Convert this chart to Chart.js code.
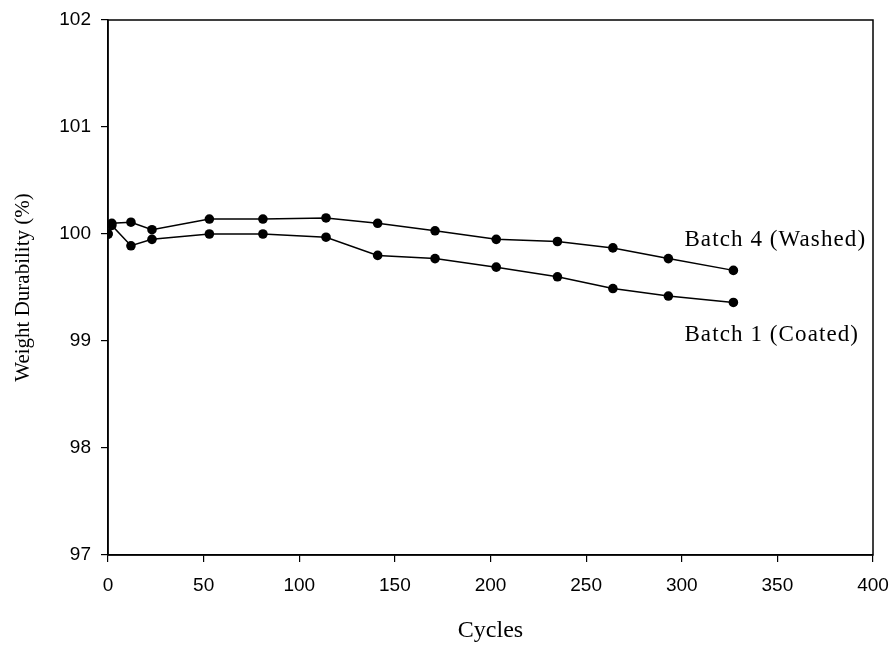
<!DOCTYPE html>
<html>
<head>
<meta charset="utf-8">
<style>
  html, body { margin: 0; padding: 0; background: #fff; }
  #chart { display: block; }
</style>
<script src="https://cdn.jsdelivr.net/npm/chart.js@4/dist/chart.umd.min.js"></script>
</head>
<body>
<canvas id="chart" width="895" height="646"></canvas>
<script>
/* ── Data ─────────────────────────────────────────────────────────────── */
const cycles = [0, 2, 12, 23, 53, 81, 114, 141, 171, 203, 235, 264, 293, 327];
const batch4 = [100.0, 100.1, 100.11, 100.04, 100.14, 100.14, 100.15, 100.1, 100.03, 99.95, 99.93, 99.87, 99.77, 99.66];
const batch1 = [100.0, 100.08, 99.89, 99.95, 100.0, 100.0, 99.97, 99.8, 99.77, 99.69, 99.6, 99.49, 99.42, 99.36];
const seriesNames = ['Batch 4 (Washed)', 'Batch 1 (Coated)'];
const xTicks = [0, 50, 100, 150, 200, 250, 300, 350, 400];
const yTicks = [97, 98, 99, 100, 101, 102];

const SERIF = '"Liberation Serif", "Times New Roman", serif';
const SANS = '"Liberation Sans", Arial, sans-serif';

const pts = ys => cycles.map((c, i) => ({ x: c, y: ys[i] }));

function dataset(label, ys) {
  return {
    label, data: pts(ys),
    borderColor: '#000', backgroundColor: '#000',
    borderWidth: 1.5, pointRadius: 4.8, pointHoverRadius: 4.8,
    pointBorderWidth: 0, tension: 0,
  };
}

/* ── Plugins ──────────────────────────────────────────────────────────── */
// closes the plot box (top + right edge)
const frame = {
  id: 'frame',
  afterDraw(chart) {
    const { ctx, chartArea: a } = chart;
    ctx.save();
    ctx.strokeStyle = '#000';
    ctx.lineWidth = 1.5;
    ctx.strokeRect(a.left, a.top, a.right - a.left, a.bottom - a.top);
    ctx.restore();
  },
};

// series names beside the line ends
const endLabels = {
  id: 'endLabels',
  afterDatasetsDraw(chart) {
    const { ctx, scales: { x, y } } = chart;
    const last = cycles.length - 1;
    const offs = [-30, 32];
    ctx.save();
    ctx.fillStyle = '#000';
    ctx.font = '23px ' + SERIF;
    ctx.letterSpacing = '1.1px';
    ctx.textBaseline = 'middle';
    ctx.textAlign = 'left';
    [batch4, batch1].forEach((ys, i) => {
      const px = x.getPixelForValue(cycles[last]) - 49;
      const py = y.getPixelForValue(ys[last]) + offs[i];
      ctx.fillText(seriesNames[i], px, py);
    });
    ctx.restore();
  },
};

/* ── Chart ────────────────────────────────────────────────────────────── */
new Chart(document.getElementById('chart'), {
  type: 'line',
  data: { datasets: [dataset(seriesNames[0], batch4), dataset(seriesNames[1], batch1)] },
  options: {
    responsive: false,
    animation: false,
    devicePixelRatio: 1,
    layout: { padding: { top: 20, right: 22, left: 0, bottom: 0 } },
    plugins: { legend: { display: false }, tooltip: { enabled: false } },
    scales: {
      x: {
        type: 'linear', min: 0, max: 400,
        afterBuildTicks: s => { s.ticks = xTicks.map(v => ({ value: v })); },
        afterFit: s => { s.height = 91; s.paddingLeft = 0; s.paddingRight = 0; },
        grid: { drawOnChartArea: false, drawTicks: true, tickLength: 7, color: '#000', lineWidth: 1.2 },
        border: { display: true, color: '#000', width: 1.5 },
        ticks: { color: '#000', font: { family: SANS, size: 19 }, padding: 12, maxRotation: 0 },
        title: { display: true, text: 'Cycles', color: '#000', font: { family: SERIF, size: 24 }, padding: { top: 4, bottom: 1 } },
      },
      y: {
        type: 'linear', min: 97, max: 102,
        afterBuildTicks: s => { s.ticks = yTicks.map(v => ({ value: v })); },
        afterFit: s => { s.width = 108; s.paddingTop = 0; s.paddingBottom = 0; },
        grid: { drawOnChartArea: false, drawTicks: true, tickLength: 7, color: '#000', lineWidth: 1.2 },
        border: { display: true, color: '#000', width: 1.5 },
        ticks: { color: '#000', font: { family: SANS, size: 19 }, padding: 10 },
        title: { display: true, text: 'Weight Durability (%)', color: '#000', font: { family: SERIF, size: 21 }, padding: { top: 11, bottom: 0 } },
      },
    },
  },
  plugins: [frame, endLabels],
});
</script>
</body>
</html>
